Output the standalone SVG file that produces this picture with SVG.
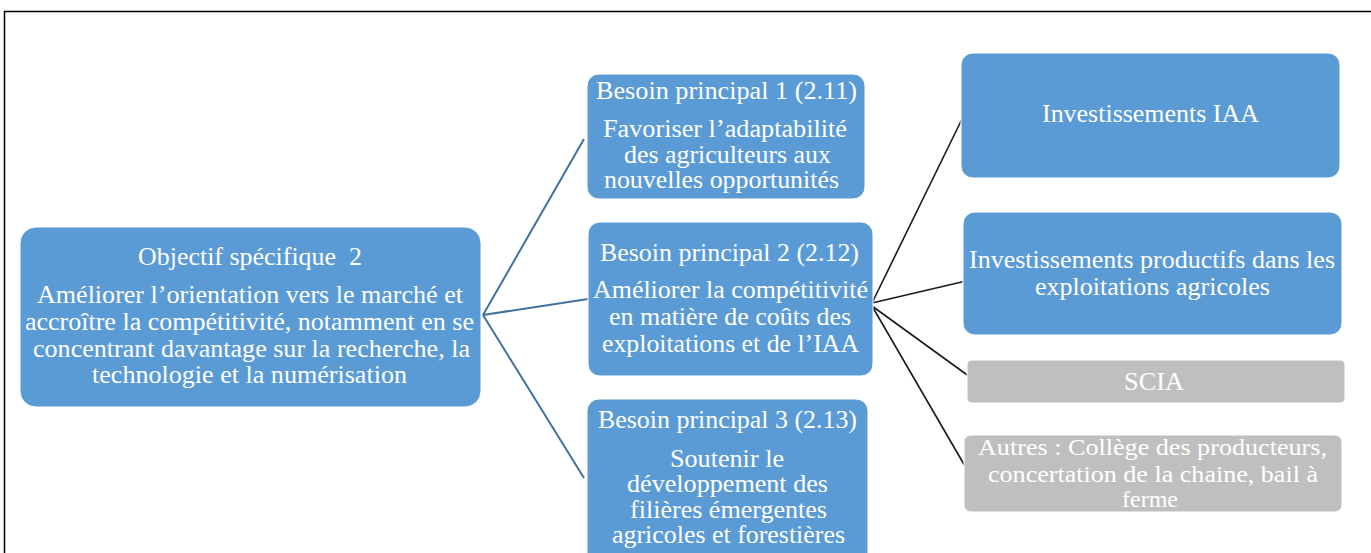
<svg xmlns="http://www.w3.org/2000/svg" width="1371" height="553" viewBox="0 0 1371 553">
<style>
.b{fill:#5B9BD5;stroke:#ffffff;stroke-width:1}
.g{fill:#BFBFBF;stroke:#ffffff;stroke-width:1}
text{font-family:"Liberation Serif","Times New Roman",serif;font-size:25px;fill:#ffffff;text-anchor:middle}
.sm{font-size:22.5px}
.cb{stroke:#41719C;stroke-width:2;fill:none}
.ck{stroke:#1a1a1a;stroke-width:1.6;fill:none}
</style>
<rect width="1371" height="553" fill="#ffffff"/>
<path d="M4.5 553 V11.5 H1371" fill="none" stroke="#000" stroke-width="1.5"/>
<g id="connectors">
<line class="cb" x1="483" y1="315" x2="584" y2="139"/>
<line class="cb" x1="483" y1="315" x2="588" y2="299"/>
<line class="cb" x1="483" y1="315" x2="584" y2="478"/>
<line class="ck" x1="872" y1="303" x2="963" y2="117"/>
<line class="ck" x1="872" y1="303" x2="966" y2="281"/>
<line class="ck" x1="872" y1="306" x2="970" y2="377"/>
<line class="ck" x1="872" y1="306" x2="969" y2="473"/>
</g>
<g id="objectif">
<rect class="b" x="20" y="227" width="461" height="180" rx="16"/>
<text x="250" y="265" textLength="224" lengthAdjust="spacingAndGlyphs" xml:space="preserve">Objectif spécifique  2</text>
<text x="250" y="303" textLength="426" lengthAdjust="spacingAndGlyphs">Améliorer l’orientation vers le marché et</text>
<text x="249.5" y="330" textLength="449" lengthAdjust="spacingAndGlyphs">accroître la compétitivité, notamment en se</text>
<text x="251.5" y="357" textLength="437" lengthAdjust="spacingAndGlyphs">concentrant davantage sur la recherche, la</text>
<text x="249.5" y="383" textLength="315" lengthAdjust="spacingAndGlyphs">technologie et la numérisation</text>
</g>
<g id="besoin1">
<rect class="b" x="587" y="74" width="278" height="125" rx="12"/>
<text x="726.5" y="99" textLength="261" lengthAdjust="spacingAndGlyphs">Besoin principal 1 (2.11)</text>
<text x="725" y="137" textLength="244" lengthAdjust="spacingAndGlyphs">Favoriser l’adaptabilité</text>
<text x="727.5" y="163" textLength="207" lengthAdjust="spacingAndGlyphs">des agriculteurs aux</text>
<text x="721.5" y="188" textLength="235" lengthAdjust="spacingAndGlyphs">nouvelles opportunités</text>
</g>
<g id="besoin2">
<rect class="b" x="588" y="222" width="285" height="154" rx="12"/>
<text x="729.5" y="261" textLength="259" lengthAdjust="spacingAndGlyphs">Besoin principal 2 (2.12)</text>
<text x="730.5" y="298" textLength="275" lengthAdjust="spacingAndGlyphs">Améliorer la compétitivité</text>
<text x="730" y="325" textLength="242" lengthAdjust="spacingAndGlyphs">en matière de coûts des</text>
<text x="730.5" y="352" textLength="257" lengthAdjust="spacingAndGlyphs">exploitations et de l’IAA</text>
</g>
<g id="besoin3">
<rect class="b" x="587" y="399" width="281" height="170" rx="12"/>
<text x="727.5" y="428" textLength="259" lengthAdjust="spacingAndGlyphs">Besoin principal 3 (2.13)</text>
<text x="727" y="467" textLength="114" lengthAdjust="spacingAndGlyphs">Soutenir le</text>
<text x="727.5" y="492" textLength="201" lengthAdjust="spacingAndGlyphs">développement des</text>
<text x="728.5" y="518" textLength="197" lengthAdjust="spacingAndGlyphs">filières émergentes</text>
<text x="728.5" y="543" textLength="233" lengthAdjust="spacingAndGlyphs">agricoles et forestières</text>
</g>
<g id="inv-iaa">
<rect class="b" x="961" y="53" width="379" height="125" rx="12"/>
<text x="1150.5" y="122" textLength="217" lengthAdjust="spacingAndGlyphs">Investissements IAA</text>
</g>
<g id="inv-prod">
<rect class="b" x="963" y="212" width="379" height="123" rx="12"/>
<text x="1152" y="268" textLength="366" lengthAdjust="spacingAndGlyphs">Investissements productifs dans les</text>
<text x="1152.5" y="295" textLength="235" lengthAdjust="spacingAndGlyphs">exploitations agricoles</text>
</g>
<g id="scia">
<rect class="g" x="967" y="360" width="378" height="43" rx="5"/>
<text x="1154" y="390" textLength="60" lengthAdjust="spacingAndGlyphs">SCIA</text>
</g>
<g id="autres">
<rect class="g" x="964" y="435" width="378" height="77" rx="7"/>
<text class="sm" x="1152.5" y="455" textLength="349" lengthAdjust="spacingAndGlyphs">Autres : Collège des producteurs,</text>
<text class="sm" x="1153" y="482" textLength="330" lengthAdjust="spacingAndGlyphs">concertation de la chaine, bail à</text>
<text class="sm" x="1150" y="507" textLength="56" lengthAdjust="spacingAndGlyphs">ferme</text>
</g>
</svg>
